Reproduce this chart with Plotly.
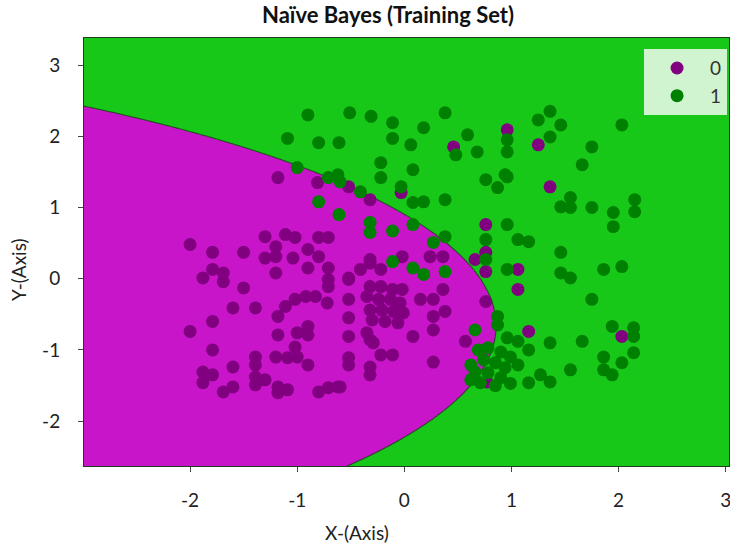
import numpy as np
import plotly.graph_objects as go

# ---- scatter data (standardised features) ----
class0_x = [-2.00, -1.79, -1.50, -1.30, -1.30, -1.20, -1.20, -1.11, -1.02, -1.04, -0.90, -0.80, -0.71,
            -0.90, -0.80, -0.71, -0.71, -0.71, -1.20, -1.88, -1.79, -1.69, -1.69, -1.50, -1.60, -1.39,
            -1.18, -1.11, -1.02, -0.92, -0.83, -0.72, -1.79, -2.00, -1.18, -1.00, -0.90, -0.90, -1.79,
            -1.02, -1.39, -1.39, -1.39, -1.39, -1.20, -1.09, -1.00, -0.90, -1.60, -1.88, -1.79, -1.88,
            -1.69, -1.60, -1.30, -1.18, -1.18, -1.09, -0.80, -0.71, -0.62,
            -0.52, -0.52, -0.52, -0.52, -0.52, -0.52, -0.32, -0.32, -0.32, -0.32, -0.22, -0.11, -0.60,
            -0.32, -0.22, -0.11, -0.02, -0.35, -0.24, -0.13, -0.04, -0.32, -0.21, -0.10, -0.01, -0.30,
            -0.18, -0.06, -0.35, -0.29,
            0.08, 0.27, 0.27, 0.15, 0.27, 0.36, 0.38, 0.27, 0.57, 0.76, 0.77,
            -1.18, -0.81, -0.52, -0.32, -0.03,
            -0.41, -0.52, -0.22, -0.32, -0.02, 0.24, 0.36,
            0.46, 0.96, 1.25, 1.36, 0.76, 0.66, 0.76, 0.76, 1.06, 1.06, 1.16, 2.03]
class0_y = [0.48, 0.37, 0.37, 0.59, 0.29, 0.45, 0.31, 0.62, 0.58, 0.29, 0.41, 0.58, 0.58,
            0.15, 0.31, 0.15, -0.01, -0.11, 0.08, 0.01, 0.13, 0.08, -0.04, -0.13, -0.41, -0.41,
            -0.53, -0.39, -0.29, -0.25, -0.25, -0.34, -0.60, -0.74, -0.79, -0.76, -0.67, -0.79, -1.00,
            -0.96, -1.10, -1.21, -1.38, -1.49, -1.10, -1.11, -1.10, -1.21, -1.24, -1.31, -1.35, -1.46,
            -1.59, -1.52, -1.42, -1.52, -1.60, -1.56, -1.59, -1.53, -1.52,
            -0.01, -0.29, -0.55, -0.81, -1.11, -1.21, 0.22, -0.86, -1.24, -1.35, -1.07, -1.07, -1.52,
            -0.11, -0.11, -0.15, -0.15, -0.25, -0.29, -0.29, -0.34, -0.44, -0.44, -0.46, -0.48, -0.58,
            -0.60, -0.62, -0.76, -0.90,
            -0.81, -0.72, -1.17, -0.29, -0.29, -0.15, -0.46, -0.53, -0.88, -0.32, -1.45,
            1.42, 1.35, 1.29, 1.11, 1.21,
            0.13, 0.01, 0.13, 0.27, 0.31, 0.31, 0.31,
            1.85, 2.09, 1.88, 1.29, 0.76, 0.27, 0.37, 0.10, 0.13, -0.15, -0.74, -0.81]

class1_x = [-0.90, -0.51, -0.31, -0.11, -1.09, -0.80, -0.61, -0.11, 0.06, -0.22, -0.22, -1.00,
            -0.71, -0.62, -0.60, -0.41, -0.03, -0.80, -0.61, -0.32, -0.32, -0.11, 0.08, 0.27, 0.38,
            -0.11, 0.08, 0.18, 0.38, 0.08, 0.08, 0.18, 0.38, 0.76, 0.87, 0.94, 0.96,
            0.38, 0.18, 0.59, 0.48, 0.68, 0.96, 0.96, 1.25, 1.36, 1.46, 1.36, 1.75, 1.66, 2.03,
            0.96, 1.46, 1.55, 1.55, 1.75, 1.95, 1.95, 2.15, 2.15,
            0.76, 0.76, 1.06, 1.16, 1.46, 0.96, 1.46, 1.55, 1.86, 2.03, 1.75, 0.66, 0.87, 0.87,
            0.96, 1.06, 1.16, 1.36, 1.66, 1.94, 2.14, 2.14, 2.14, 1.86, 2.03, 1.86, 1.94, 1.55,
            1.06, 1.27, 1.36, 1.16,
            0.69, 0.78, 0.90, 0.99, 0.74, 0.85, 0.94, 0.66, 0.78, 0.90, 0.71, 0.85, 0.99, 0.62, 0.62]
class1_y = [2.30, 2.33, 2.28, 2.19, 1.97, 1.91, 1.91, 1.97, 1.88, 1.63, 1.42, 1.56,
            1.42, 1.46, 1.36, 1.22, 1.29, 1.08, 0.90, 0.79, 0.65, 0.67, 0.76, 0.51, 0.59,
            0.24, 0.15, 0.06, 0.10, 1.53, 1.07, 1.08, 1.11, 1.39, 1.28, 1.46, 0.76,
            2.33, 2.12, 2.02, 1.74, 1.78, 1.95, 1.78, 2.23, 2.35, 2.16, 1.99, 1.85, 1.60, 2.16,
            1.43, 1.01, 1.14, 1.00, 1.00, 0.93, 0.73, 1.11, 0.94,
            0.55, 0.27, 0.55, 0.52, 0.37, 0.13, 0.08, 0.01, 0.13, 0.17, -0.29, -0.72, -0.53, -0.65,
            -0.83, -0.88, -1.00, -0.90, -0.88, -0.67, -0.69, -0.81, -1.04, -1.10, -1.18, -1.28, -1.35, -1.28,
            -1.21, -1.35, -1.45, -1.46,
            -1.00, -0.97, -1.03, -1.10, -1.14, -1.18, -1.25, -1.31, -1.32, -1.39, -1.46, -1.50, -1.47, -1.21, -1.42]

class_names = ["0", "1"]

# ---- decision surface parameters (quadratic boundary) ----
# class 0 where (y - y_center)^2 < a*x^2 + b*x + c
y_center = -0.66
coef_a, coef_b, coef_c = -0.13, -2.75, 2.45

x_range = [-2.99, 3.03]
y_range = [-2.63, 3.38]
x_ticks = [-2, -1, 0, 1, 2, 3]
y_ticks = [-2, -1, 0, 1, 2, 3]

MAGENTA = "#c915c9"
LIME = "#18c818"
PURPLE = "#800080"
GREEN = "#008000"

gx = np.arange(x_range[0], x_range[1] + 0.01, 0.01)
gy = np.arange(y_range[0], y_range[1] + 0.01, 0.01)
GX, GY = np.meshgrid(gx, gy)
score = (coef_a * GX**2 + coef_b * GX + coef_c) - (GY - y_center) ** 2
pred = np.where(score > 0, 0, 1)

fig = go.Figure()
fig.add_trace(go.Heatmap(x=gx, y=gy, z=pred, zmin=0, zmax=1,
                         colorscale=[[0, MAGENTA], [0.5, MAGENTA], [0.5, LIME], [1, LIME]],
                         showscale=False, hoverinfo="skip", zsmooth=False, showlegend=False))
fig.add_trace(go.Contour(x=gx, y=gy, z=score, contours=dict(start=0, end=0, size=1, coloring="none"),
                         line=dict(color="rgba(20,70,20,0.8)", width=1.2), showscale=False,
                         hoverinfo="skip", showlegend=False))
fig.add_trace(go.Scatter(x=class0_x, y=class0_y, mode="markers", name=class_names[0],
                         marker=dict(color=PURPLE, size=13, line=dict(width=0))))
fig.add_trace(go.Scatter(x=class1_x, y=class1_y, mode="markers", name=class_names[1],
                         marker=dict(color=GREEN, size=13, line=dict(width=0))))

FONT = "Lato"
fig.update_layout(
    width=730, height=550,
    margin=dict(l=84, r=1, t=38, b=84, autoexpand=False),
    paper_bgcolor="white", plot_bgcolor=LIME,
    font=dict(family=FONT, size=19, color="#222"),
    showlegend=True,
    legend=dict(x=0.997, xanchor="right", y=0.974, yanchor="top",
                bgcolor="rgba(255,255,255,0.8)", font=dict(size=19, color="#333"),
                itemwidth=56, tracegroupgap=0),
    annotations=[
        dict(text="<b>Naïve Bayes (Training Set)</b>", xref="paper", yref="paper",
             x=(388 - 84) / 645, y=1 + (38 - 15) / 428, showarrow=False,
             xanchor="center", yanchor="middle", font=dict(size=22, color="#111")),
        dict(text="X-(Axis)", xref="paper", yref="paper", x=(357 - 84) / 645,
             y=-(532 - 466) / 428, showarrow=False, xanchor="center", yanchor="middle",
             font=dict(size=19)),
        dict(text="Y-(Axis)", xref="paper", yref="paper", x=-(84 - 18) / 645,
             y=(466 - 270) / 428, showarrow=False, xanchor="center", yanchor="middle",
             textangle=-90, font=dict(size=19)),
    ],
)
fig.update_xaxes(range=x_range, tickvals=x_ticks, ticktext=[str(v) for v in x_ticks],
                 showgrid=False, zeroline=False, showline=True, linecolor="#1d3d1d", linewidth=1,
                 mirror=True, ticks="outside", ticklen=5, tickcolor="#444",
                 ticklabelstandoff=12, automargin=False, ticklabeloverflow="allow")
fig.update_yaxes(range=y_range, tickvals=y_ticks, ticktext=[str(v) for v in y_ticks],
                 showgrid=False, zeroline=False, showline=True, linecolor="#1d3d1d", linewidth=1,
                 mirror=True, ticks="outside", ticklen=5, tickcolor="#444",
                 ticklabelstandoff=14, automargin=False, ticklabeloverflow="allow")

fig.write_html("out.html", config={"displayModeBar": False},
               post_script="document.body.style.margin='0px';")
